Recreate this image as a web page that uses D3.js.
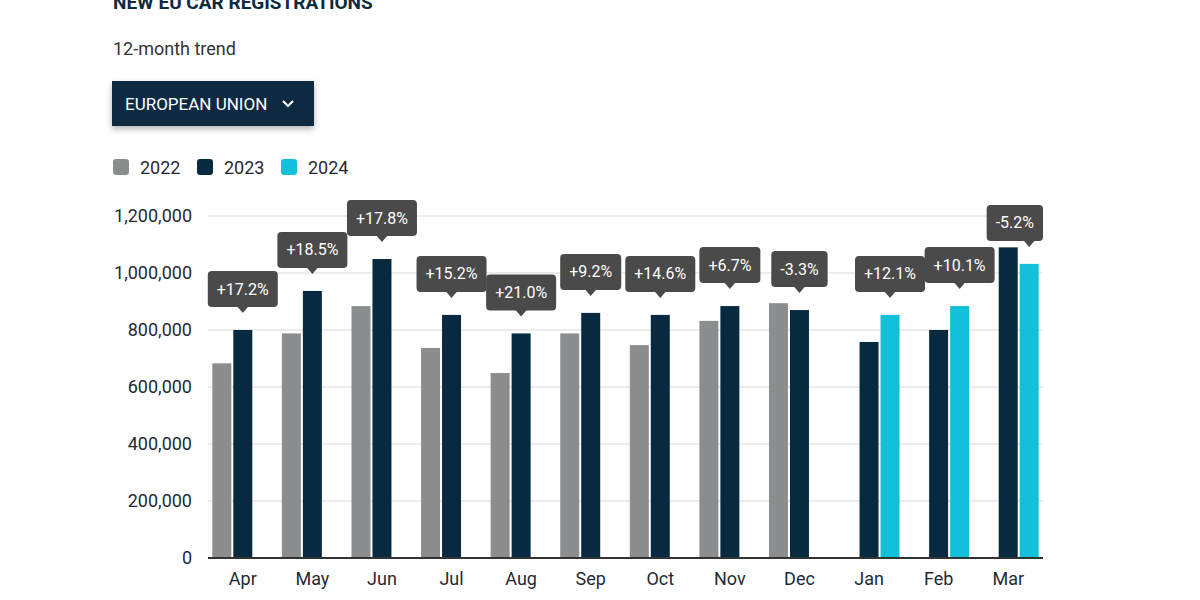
<!DOCTYPE html>
<html>
<head>
<meta charset="utf-8">
<script src="https://cdn.jsdelivr.net/npm/d3@7"></script>
<style>
body{margin:0;background:#fff;}
text{font-family:Roboto,"Noto Sans",sans-serif;}
</style>
</head>
<body>
<div id="chart"></div>
<script>
var months = ["Apr","May","Jun","Jul","Aug","Sep","Oct","Nov","Dec","Jan","Feb","Mar"]
var years = ["2022","2023","2024"]
var v2022 = [683000,788000,884000,737000,649000,788000,747000,832000,894000,null,null,null]
var v2023 = [800000,937000,1049000,853000,788000,860000,853000,884000,870000,758000,800000,1090000]
var v2024 = [null,null,null,null,null,null,null,null,null,853000,884000,1032000]
var changes = ["+17.2%","+18.5%","+17.8%","+15.2%","+21.0%","+9.2%","+14.6%","+6.7%","-3.3%","+12.1%","+10.1%","-5.2%"]
var yTicks = [0,200000,400000,600000,800000,1000000,1200000]

var colors = {"2022":"#8b8d8e","2023":"#072a40","2024":"#12c0d9"}

var w = 1200
var h = 600
var plotLeft = 208, plotRight = 1043, plotTop = 216, plotBottom = 558

var svg = d3.select("#chart").append("svg").attr("width",w).attr("height",h)

var defs = svg.append("defs")
var f = defs.append("filter").attr("id","shadow").attr("x","-10%").attr("y","-20%").attr("width","120%").attr("height","150%")
f.append("feDropShadow").attr("dx",0).attr("dy",3).attr("stdDeviation",3).attr("flood-color","#000").attr("flood-opacity",0.3)

// header (cut off at the top, as in the page screenshot)
svg.append("text").text("NEW EU CAR REGISTRATIONS")
	.attr("x",113).attr("y",9)
	.style("font-weight",700).style("font-size","19px").attr("fill","#0b2b40")

svg.append("text").text("12-month trend")
	.attr("x",113).attr("y",55)
	.style("font-size","18px").attr("fill","#333")

var btn = svg.append("g").attr("transform","translate(112,81)")
btn.append("rect").attr("width",202).attr("height",45).attr("fill","#0b2b40").attr("filter","url(#shadow)")
btn.append("text").text("EUROPEAN UNION").attr("x",13).attr("y",29)
	.style("font-size","17px").attr("fill","#fff")
btn.append("polyline").attr("points","171,20 176,25 181,20")
	.attr("fill","none").attr("stroke","#fff").attr("stroke-width",2)

// legend
var legendX = [113,197,281]
var legend = svg.selectAll(".legend").data(years).enter().append("g")
	.attr("class","legend")
	.attr("transform",function(d,i){return "translate("+legendX[i]+",159)"})
legend.append("rect").attr("width",16).attr("height",16).attr("rx",3)
	.attr("fill",function(d){return colors[d]})
legend.append("text").text(function(d){return d}).attr("x",27).attr("y",14.5)
	.style("font-size","18px").attr("fill","#1f2a35")

// scales
var x0 = d3.scaleBand().domain(months).range([plotLeft,plotRight]).paddingInner(0.124).paddingOuter(0.062)
var x1 = d3.scaleBand().domain(years).range([0,x0.bandwidth()]).paddingInner(0.095)
var y = d3.scaleLinear().domain([0,1200000]).range([plotBottom,plotTop])

// grid
svg.selectAll(".grid").data(yTicks.slice(1)).enter().append("line")
	.attr("x1",plotLeft).attr("x2",plotRight)
	.attr("y1",function(d){return y(d)}).attr("y2",function(d){return y(d)})
	.attr("stroke","#e6e6e6").attr("stroke-width",1.5)

var yAxis = svg.append("g").attr("transform","translate("+plotLeft+",0)")
	.call(d3.axisLeft(y).tickValues(yTicks).tickFormat(d3.format(",")).tickSize(0).tickPadding(16))
yAxis.select(".domain").remove()
yAxis.selectAll("text").style("font-size","18px").attr("fill","#1f2a35").attr("font-family","Roboto")

// bars
var rows = months.map(function(m,i){
	return {month:m, values:[
		{year:"2022",value:v2022[i]},
		{year:"2023",value:v2023[i]},
		{year:"2024",value:v2024[i]}
	], change:changes[i]}
})

var groups = svg.selectAll(".group").data(rows).enter().append("g")
	.attr("transform",function(d){return "translate("+x0(d.month)+",0)"})
groups.selectAll("rect").data(function(d){return d.values.filter(function(v){return v.value!=null})})
	.enter().append("rect")
	.attr("x",function(d){return x1(d.year)})
	.attr("width",x1.bandwidth())
	.attr("y",function(d){return y(d.value)})
	.attr("height",function(d){return plotBottom-y(d.value)})
	.attr("fill",function(d){return colors[d.year]})

// baseline
svg.append("line").attr("x1",plotLeft).attr("x2",plotRight).attr("y1",plotBottom).attr("y2",plotBottom)
	.attr("stroke","#333").attr("stroke-width",2)

var xAxis = svg.append("g").attr("transform","translate(0,"+plotBottom+")")
	.call(d3.axisBottom(x0).tickSize(0).tickPadding(14))
xAxis.select(".domain").remove()
xAxis.selectAll("text").style("font-size","18px").attr("fill","#1f2a35").attr("font-family","Roboto")

// change callouts, pointing at the latest year's bar
rows.forEach(function(r){
	var last = r.values.filter(function(v){return v.value!=null}).pop()
	var cx = x0(r.month)+x1(last.year)+x1.bandwidth()/2
	var tip = y(last.value)-17
	var boxB = tip-6, boxT = boxB-36
	var g = svg.append("g")
	var t = g.append("text").text(r.change)
		.attr("y",(boxT+boxB)/2+5.5)
		.attr("text-anchor","middle")
		.style("font-size","16px").attr("fill","#fff")
	var tw = t.node().getComputedTextLength()
	var bw = tw+18
	var bx = Math.min(cx-bw/2, plotRight-bw)
	g.insert("path","text")
		.attr("d","M"+(cx-6)+","+(boxB-1)+"L"+cx+","+tip+"L"+(cx+6)+","+(boxB-1)+"Z")
		.attr("fill","#4a4a4a")
	g.insert("rect","path")
		.attr("x",bx).attr("y",boxT).attr("width",bw).attr("height",boxB-boxT).attr("rx",4)
		.attr("fill","#4a4a4a")
	t.attr("x",bx+bw/2)
})
</script>
</body>
</html>
